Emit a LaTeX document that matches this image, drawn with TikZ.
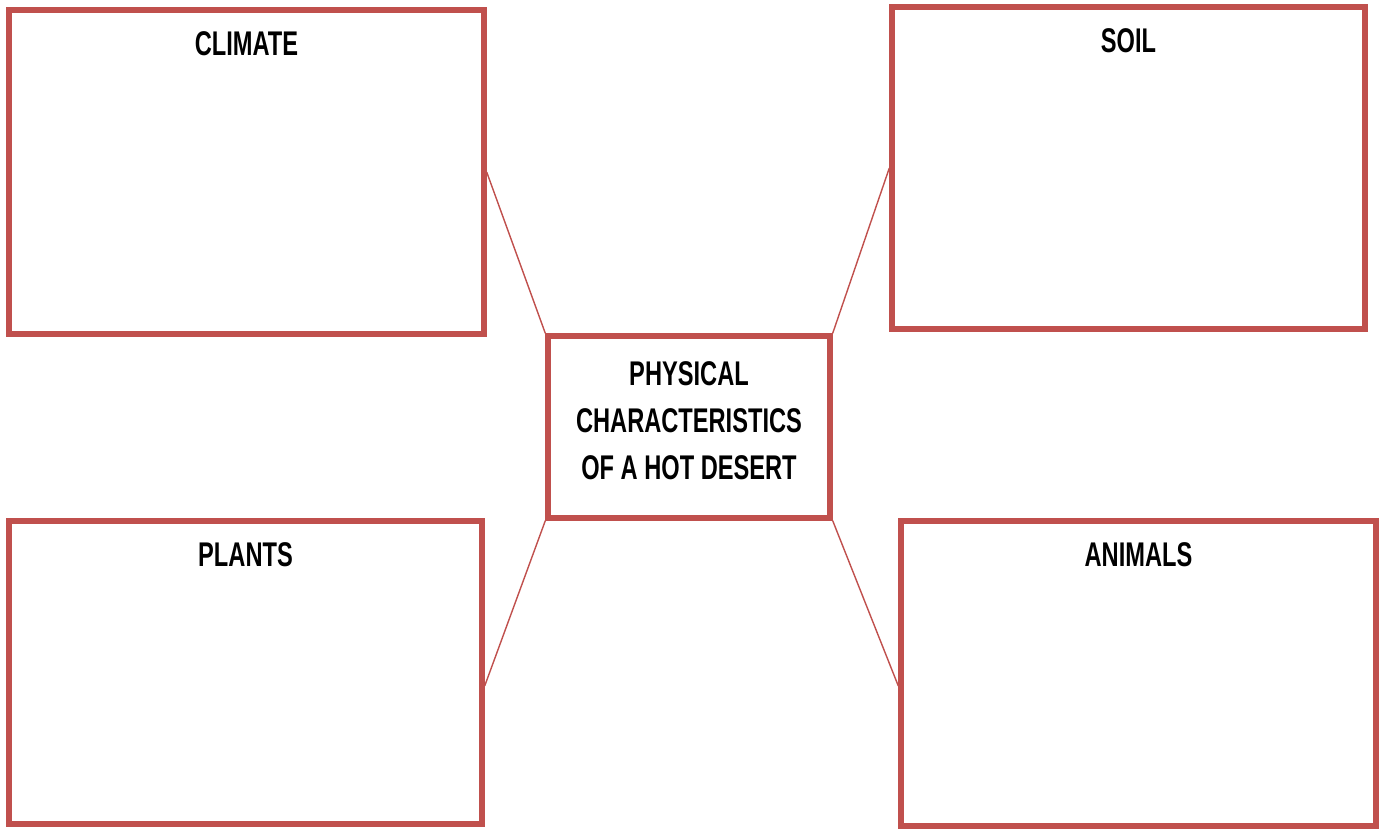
\documentclass[tikz,border=0pt]{standalone}
\usepackage{fontspec}
\usepackage{tikz}
\usetikzlibrary{positioning}
\newfontfamily\narrowbold[FakeStretch=0.69]{Liberation Sans Bold}
\definecolor{boxred}{HTML}{C0504D}

\begin{document}
\begin{tikzpicture}[x=0.02cm, y=-0.02cm,
		box/.style={draw=boxred, line width=3.1pt, rectangle, inner sep=0pt},
		link/.style={draw=boxred, line width=0.8pt},
		heading/.style={inner sep=0pt, font={\narrowbold\fontsize{19.5}{26.7}\selectfont}}]
	\useasboundingbox (0,0) rectangle (1386,830);
	
	% === 四个方框 ===
	\node[box, minimum width=9.50cm, minimum height=6.48cm] (climate) at (246.5,172) {};
	\node[box, minimum width=9.46cm, minimum height=6.44cm] (soil) at (1128.5,168) {};
	\node[box, minimum width=9.46cm, minimum height=6.06cm] (plants) at (245.5,672.5) {};
	\node[box, minimum width=9.50cm, minimum height=6.10cm] (animals) at (1138.5,673.5) {};
	
	% 标题
	\node[heading, below=0.48cm of climate.north] (climatetitle) {CLIMATE};
	\node[heading, below=0.48cm of soil.north] (soiltitle) {SOIL};
	\node[heading, below=0.48cm of plants.north] (plantstitle) {PLANTS};
	\node[heading, below=0.48cm of animals.north] (animalstitle) {ANIMALS};
	
	% === 中心方框 ===
	\node[box, minimum width=5.64cm, minimum height=3.64cm] (desert) at (689,427) {};
	\node[heading, align=center] (deserttitle) at (689,421) {PHYSICAL\\CHARACTERISTICS\\OF A HOT DESERT};
	
	% 连线 (下方两条在方框中点以下)
	\draw[link] (climate.east) -- (desert.north west);
	\draw[link] (soil.west) -- (desert.north east);
	\draw[link] ([yshift=-0.27cm]plants.east) -- (desert.south west);
	\draw[link] ([yshift=-0.25cm]animals.west) -- (desert.south east);
\end{tikzpicture}
\end{document}
